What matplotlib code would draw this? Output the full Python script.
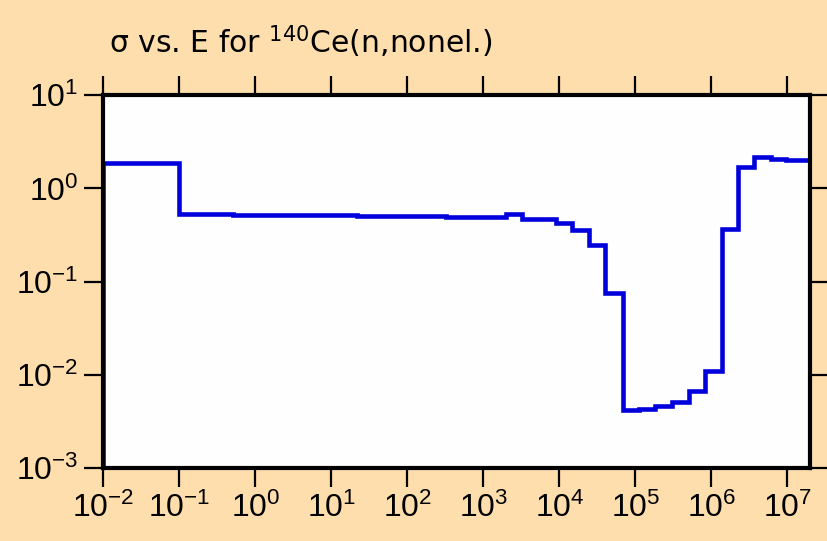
import numpy as np
import matplotlib
matplotlib.use('Agg')
import matplotlib.pyplot as plt
from matplotlib.ticker import NullLocator

plt.rcParams['font.family'] = ['Liberation Sans', 'DejaVu Sans']
plt.rcParams['mathtext.fontset'] = 'custom'
plt.rcParams['mathtext.rm'] = 'Liberation Sans'
plt.rcParams['mathtext.it'] = 'Liberation Sans'

# group boundaries (eV) and group-averaged cross sections (b)
edges = [1e-2, 0.1, 0.5, 3.5, 8, 13.5, 22, 39, 72, 132, 325, 660, 1200,
         2000, 3250, 5.5e3, 9.1e3, 1.48e4, 2.46e4, 4.0e4, 6.8e4, 1.12e5,
         1.83e5, 3.0e5, 5.0e5, 8.3e5, 1.37e6, 2.23e6, 3.67e6, 6.0e6,
         9.6e6, 1.96e7]
sigma = [1.88, 0.526, 0.522, 0.518, 0.515, 0.512, 0.509, 0.506, 0.503,
         0.500, 0.497, 0.494, 0.491,
         0.536, 0.469, 0.465, 0.428, 0.357, 0.247, 0.075, 0.0042, 0.00425,
         0.00467, 0.00516, 0.00677, 0.0111, 0.366, 1.70, 2.15, 2.05, 2.01]

xticks = [10.0**k for k in range(-2, 8)]
xlabels = ['$\\mathregular{10^{%d}}$' % k for k in range(-2, 8)]
yticks = [10.0**k for k in range(-3, 2)]
ylabels = ['$\\mathregular{10^{%d}}$' % k for k in range(-3, 2)]

fig = plt.figure(figsize=(8.27, 5.41), dpi=100, facecolor='#FFDEAD')
ax = fig.add_axes([0.125, 0.135, 0.854, 0.689])
ax.set_facecolor('#FEFEFE')

# histogram outline, dropping to the floor at both ends
ax.stairs(sigma, edges, baseline=1e-5, color='#0000DD', linewidth=3.3)

ax.set_xscale('log')
ax.set_yscale('log')
ax.set_xlim(1e-2, 1.96e7)
ax.set_ylim(1e-3, 10)

ax.set_xticks(xticks)
ax.set_xticklabels(xlabels)
ax.set_yticks(yticks)
ax.set_yticklabels(ylabels)
ax.xaxis.set_minor_locator(NullLocator())
ax.yaxis.set_minor_locator(NullLocator())

ax.tick_params(which='major', direction='out', length=14, width=1.6,
               top=True, right=True, labelsize=23, pad=4, colors='black')
for s in ax.spines.values():
    s.set_linewidth(3)

fig.text(0.132, 0.902, r'σ vs. E for $^{140}$Ce(n,nonel.)', fontsize=21.5,
         family=['DejaVu Sans'], math_fontfamily='dejavusans',
         ha='left', va='baseline')

fig.savefig('out.png', dpi=100, facecolor=fig.get_facecolor())
